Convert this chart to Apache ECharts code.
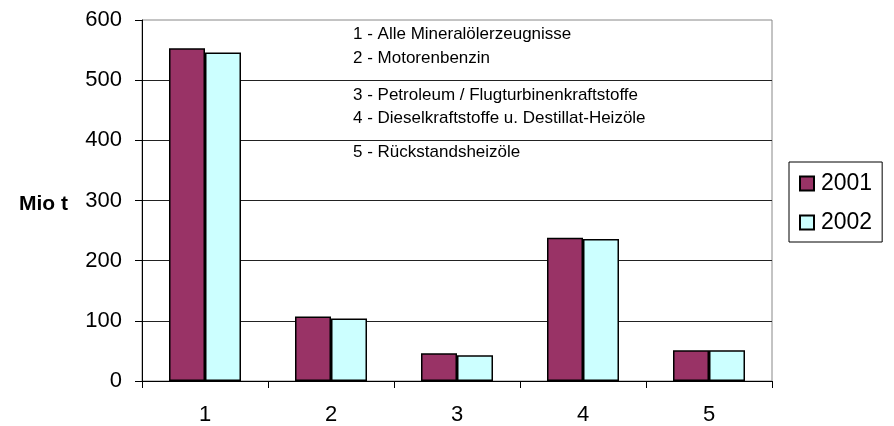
<!DOCTYPE html>
<html>
<head>
<meta charset="utf-8">
<script src="https://cdn.jsdelivr.net/npm/echarts@6/dist/echarts.min.js"></script>
<style>
  html, body { margin: 0; padding: 0; background: #fff; }
  #chart { width: 894px; height: 426px; }
</style>
</head>
<body>
<div id="chart"></div>
<script>
// Mineralölprodukte 2001 / 2002, Mio t
var categories = ["1", "2", "3", "4", "5"];
var values2001 = [553, 107, 46, 238, 51];
var values2002 = [546, 104, 43, 236, 51];
var yTicks = { min: 0, max: 600, interval: 100 };
var notes = [
  "1 - Alle Mineralölerzeugnisse",
  "2 - Motorenbenzin",
  "3 - Petroleum / Flugturbinenkraftstoffe",
  "4 - Dieselkraftstoffe u. Destillat-Heizöle",
  "5 - Rückstandsheizöle"
];
var noteY = [35, 59, 96, 119, 153];

var font = "Liberation Sans, Arial, sans-serif";
var chart = echarts.init(document.getElementById("chart"));

var option = {
  animation: false,
  backgroundColor: "#fff",
  textStyle: { fontFamily: font },
  grid: {
    left: 142, right: 122, top: 20, bottom: 45,
    show: true, borderColor: "#888", borderWidth: 1
  },
  legend: {
    orient: "vertical",
    left: 789, top: 162,
    data: ["2001", "2002"],
    icon: "rect",
    itemWidth: 14, itemHeight: 14,
    itemGap: 16,
    padding: [10, 10, 8, 10],
    borderColor: "#000", borderWidth: 1,
    textStyle: { fontSize: 23, color: "#000", fontFamily: font, lineHeight: 22, padding: [0, 0, 0, 2] }
  },
  xAxis: {
    type: "category",
    data: categories,
    axisLine: { lineStyle: { color: "#000" } },
    axisTick: { show: true, length: 7, lineStyle: { color: "#000" } },
    axisLabel: { fontSize: 22, color: "#000", margin: 23 }
  },
  yAxis: {
    type: "value",
    min: yTicks.min, max: yTicks.max, interval: yTicks.interval,
    name: "Mio t",
    nameLocation: "middle",
    nameRotate: 0,
    nameGap: 74,
    nameTextStyle: { fontSize: 21, fontWeight: "bold", color: "#000", align: "right", verticalAlign: "top", lineHeight: 8 },
    axisLine: { show: true, lineStyle: { color: "#000" } },
    axisTick: { show: true, length: 7, lineStyle: { color: "#000" } },
    axisLabel: { fontSize: 22, color: "#000", margin: 20 },
    splitLine: { show: true, showMaxLine: false, lineStyle: { color: "#222" } }
  },
  graphic: notes.map(function (t, i) {
    return {
      type: "text",
      left: 353,
      top: noteY[i] - 9,
      style: { text: t, font: "17px " + font, fill: "#000" }
    };
  }),
  series: [
    {
      name: "2001",
      type: "bar",
      data: values2001,
      barWidth: 36,
      barGap: "0%",
      itemStyle: { color: "#993366", borderColor: "#000", borderWidth: 1.5 }
    },
    {
      name: "2002",
      type: "bar",
      data: values2002,
      barWidth: 36,
      barGap: "0%",
      itemStyle: { color: "#ccffff", borderColor: "#000", borderWidth: 1.5 }
    }
  ]
};

chart.setOption(option);
</script>
</body>
</html>
